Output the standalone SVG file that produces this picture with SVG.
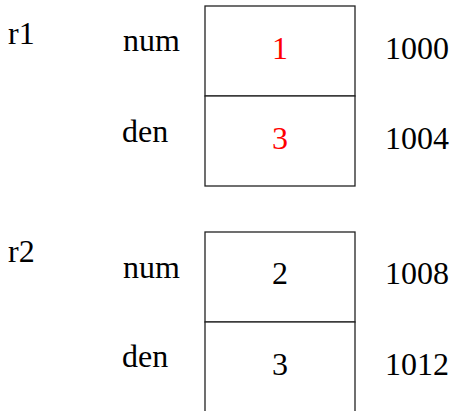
<svg xmlns="http://www.w3.org/2000/svg" width="451" height="411" viewBox="0 0 451 411">
<style>
.v{text-anchor:middle}
.red{fill:#ff0000}
.cell{fill:#fff;stroke:#222;stroke-width:1.3}
</style>
<rect width="451" height="411" fill="#fff"/>
<g font-family="Liberation Serif, Times New Roman, serif" font-size="32" fill="#000">
<g id="r1">
<text x="8" y="44">r1</text>
<g id="r1-num">
<text x="123" y="51">num</text>
<rect class="cell" x="205" y="6" width="150" height="90"/>
<text class="v red" x="280" y="59">1</text>
<text x="385" y="59">1000</text>
</g>
<g id="r1-den">
<text x="122" y="142">den</text>
<rect class="cell" x="205" y="96" width="150" height="90"/>
<text class="v red" x="280" y="149">3</text>
<text x="385" y="149">1004</text>
</g>
</g>
<g id="r2">
<text x="8" y="262">r2</text>
<g id="r2-num">
<text x="123" y="278">num</text>
<rect class="cell" x="205" y="232" width="150" height="90"/>
<text class="v" x="280" y="284">2</text>
<text x="385" y="284">1008</text>
</g>
<g id="r2-den">
<text x="122" y="367">den</text>
<rect class="cell" x="205" y="322" width="150" height="95"/>
<text class="v" x="280" y="375">3</text>
<text x="385" y="375">1012</text>
</g>
</g>
</g>
<g id="connectors"/>
</svg>
